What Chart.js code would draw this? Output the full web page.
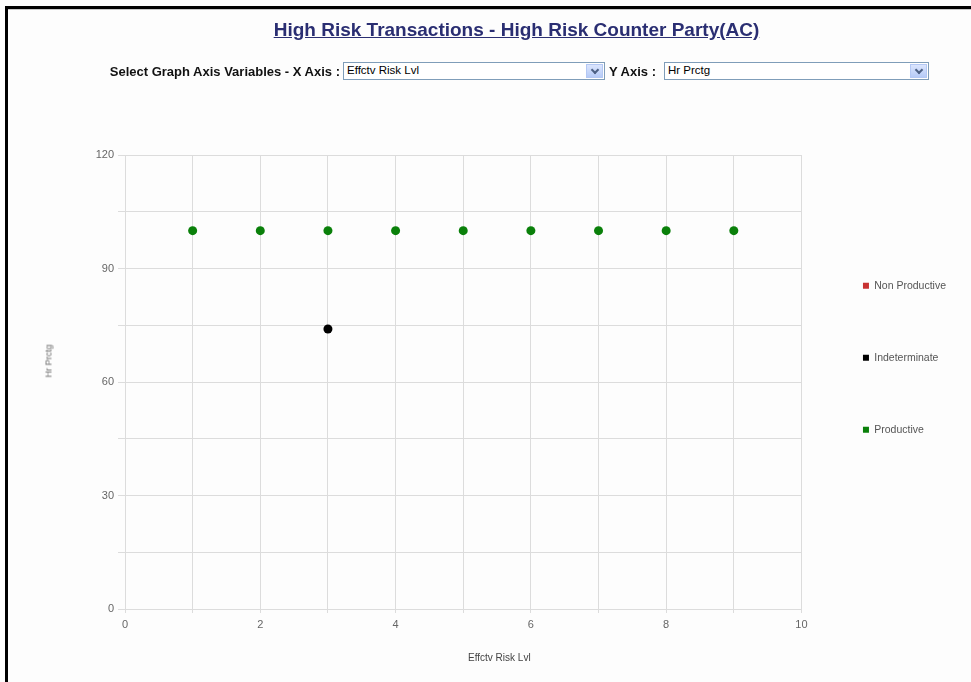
<!DOCTYPE html>
<html>
<head>
<meta charset="utf-8">
<title>High Risk Transactions - High Risk Counter Party(AC)</title>
<script src="https://cdn.jsdelivr.net/npm/chart.js@4.4.1/dist/chart.umd.min.js"></script>
<style>
    html, body { margin: 0; padding: 0; }
    body {
        width: 971px; height: 682px; overflow: hidden; position: relative;
        background: #fdfdfd; font-family: Arial, "Liberation Sans", sans-serif;
    }
    #chart { position: absolute; left: 0; top: 0; }
    .bar-top { position: absolute; left: 5px; top: 6px; width: 966px; height: 3px; background: #000; }
    .bar-top-shade { position: absolute; left: 8px; top: 9px; width: 963px; height: 1px; background: #c8c8c8; }
    .bar-left { position: absolute; left: 5px; top: 6px; width: 3px; height: 676px; background: #000; }
    .page-title {
        position: absolute; left: 0; width: 1033px; top: 19px; text-align: center; white-space: nowrap;
        font-size: 19px; font-weight: bold; color: #2a2e72; text-decoration: underline;
    }
    .sel-label {
        position: absolute; top: 64px; font-size: 13px; font-weight: bold; color: #111; white-space: nowrap;
    }
    .sel-box {
        position: absolute; top: 62px; height: 18px; border: 1px solid #7f9db9; background: #fff;
        font-size: 11.5px; line-height: 15px; padding-left: 3px; box-sizing: border-box; color: #000;
    }
    .sel-btn {
        position: absolute; right: 1px; top: 1px; width: 17px; height: 14px;
        background: linear-gradient(#dbe5fd, #b6cbf7); border: 1px solid #b4c8f4; box-sizing: border-box;
    }
    .sel-btn::after {
        content: ""; position: absolute; left: 5px; top: 2px; width: 4px; height: 4px;
        border-right: 2px solid #4d6185; border-bottom: 2px solid #4d6185; transform: rotate(45deg);
    }
    .axis-title { position: absolute; font-size: 10px; color: #444; white-space: nowrap; }
</style>
</head>
<body>
<div class="bar-top"></div>
<div class="bar-top-shade"></div>
<div class="bar-left"></div>

<canvas id="chart" width="971" height="682"></canvas>

<div class="page-title">High Risk Transactions - High Risk Counter Party(AC)</div>
<div class="sel-label" style="right: 631px;">Select Graph Axis Variables - X Axis :</div>
<div class="sel-box" style="left: 343px; width: 262px;">Effctv Risk Lvl<div class="sel-btn"></div></div>
<div class="sel-label" style="left: 609px;">Y Axis :</div>
<div class="sel-box" style="left: 664px; width: 265px;">Hr Prctg<div class="sel-btn"></div></div>

<div class="axis-title" id="xTitle" style="left: 468px; top: 652px;">Effctv Risk Lvl</div>
<div class="axis-title" id="yTitle" style="left: 32px; top: 356px; transform: rotate(-90deg); font-size: 9px; color: #666;">Hr Prctg</div>

<script>
// Chart data
const seriesNames = ['Non Productive', 'Indeterminate', 'Productive'];
const seriesColors = ['#c83232', '#000000', '#0a800a'];

const nonProductiveX = [];
const nonProductiveY = [];
const indeterminateX = [3];
const indeterminateY = [74];
const productiveX = [1, 2, 3, 4, 5, 6, 7, 8, 9];
const productiveY = [100, 100, 100, 100, 100, 100, 100, 100, 100];

const xRange = [0, 10];
const yRange = [0, 120];
const xLabelStep = 2;
const yLabelStep = 30;

function toPoints(xs, ys) {
    return xs.map((x, i) => ({ x: x, y: ys[i] }));
}

const seriesPoints = [
    toPoints(nonProductiveX, nonProductiveY),
    toPoints(indeterminateX, indeterminateY),
    toPoints(productiveX, productiveY)
];

const gridColor = '#dcdcdc';
const tickFont = { family: 'Arial, "Liberation Sans", sans-serif', size: 11 };

new Chart(document.getElementById('chart').getContext('2d'), {
    type: 'scatter',
    data: {
        datasets: seriesNames.map((name, i) => ({
            label: name,
            data: seriesPoints[i],
            backgroundColor: seriesColors[i],
            borderColor: seriesColors[i],
            pointRadius: 4.5,
            pointHoverRadius: 4.5,
            borderWidth: 0
        }))
    },
    options: {
        responsive: false,
        animation: false,
        layout: { padding: { left: 85, top: 155, right: 15, bottom: 43 } },
        plugins: {
            tooltip: { enabled: false },
            legend: {
                position: 'right',
                align: 'start',
                maxWidth: 169,
                title: { display: true, text: ' ', font: { size: 10, lineHeight: 1 }, padding: { top: 54, bottom: 0 } },
                labels: {
                    boxWidth: 6,
                    boxHeight: 6,
                    padding: 61.5,
                    color: '#555',
                    font: { family: 'Arial, "Liberation Sans", sans-serif', size: 10.5 }
                }
            }
        },
        scales: {
            x: {
                type: 'linear',
                min: xRange[0],
                max: xRange[1],
                afterFit: (scale) => { scale.height = 30; },
                grid: { color: gridColor, tickLength: 4, tickColor: gridColor },
                border: { color: gridColor },
                ticks: {
                    stepSize: 1,
                    autoSkip: false,
                    maxRotation: 0,
                    padding: 5,
                    color: '#666',
                    font: tickFont,
                    callback: (v) => (v % xLabelStep === 0 ? v : '')
                }
            },
            y: {
                type: 'linear',
                min: yRange[0],
                max: yRange[1],
                afterFit: (scale) => { scale.width = 40; },
                grid: { color: gridColor, tickLength: 7, tickColor: gridColor },
                border: { color: gridColor },
                ticks: {
                    stepSize: 15,
                    autoSkip: false,
                    padding: 4,
                    color: '#666',
                    font: tickFont,
                    callback: (v) => (v % yLabelStep === 0 ? v : '')
                }
            }
        }
    }
});
</script>
</body>
</html>
